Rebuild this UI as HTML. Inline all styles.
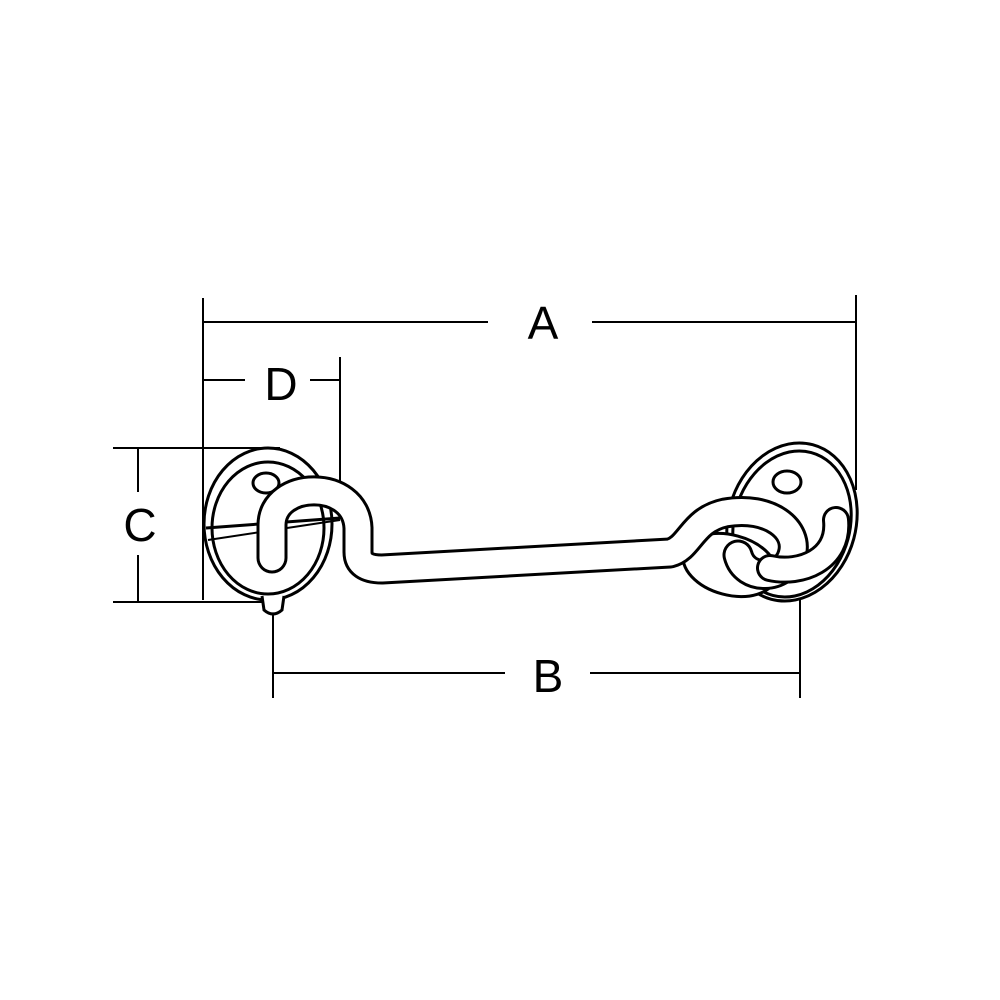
<!DOCTYPE html>
<html><head><style>body{margin:0;background:#fff}svg{display:block}</style></head><body>
<svg width="1000" height="1000" viewBox="0 0 1000 1000" xmlns="http://www.w3.org/2000/svg">
<g stroke="#000" stroke-width="2" fill="none">
<line x1="203" y1="298" x2="203" y2="600"/>
<line x1="856" y1="295" x2="856" y2="490"/>
<line x1="203" y1="322" x2="488" y2="322"/>
<line x1="592" y1="322" x2="856" y2="322"/>
<line x1="340" y1="357" x2="340" y2="482"/>
<line x1="203" y1="380" x2="245" y2="380"/>
<line x1="310" y1="380" x2="340" y2="380"/>
<line x1="113" y1="448" x2="280" y2="448"/>
<line x1="113" y1="602" x2="262" y2="602"/>
<line x1="138" y1="448" x2="138" y2="492"/>
<line x1="138" y1="555" x2="138" y2="602"/>
<line x1="273" y1="610" x2="273" y2="698"/>
<line x1="800" y1="530" x2="800" y2="698"/>
<line x1="273" y1="673" x2="505" y2="673"/>
<line x1="590" y1="673" x2="800" y2="673"/>
</g>
<g font-family="Liberation Sans, sans-serif" font-size="46" text-anchor="middle">
<text x="543" y="339">A</text>
<text x="281" y="400">D</text>
<text x="140" y="541">C</text>
<text x="548" y="692">B</text>
</g>
<!-- left plate -->
<g stroke="#000" stroke-width="3" fill="#fff">
<ellipse cx="268" cy="524" rx="64" ry="76"/>
<ellipse cx="268" cy="528" rx="56" ry="66"/>
<path d="M262,596 L264,610 Q273,618 282,610 L284,596"/>
<ellipse cx="266" cy="483" rx="13" ry="10"/>
<line x1="206" y1="528" x2="340" y2="518"/>
<line x1="208" y1="540" x2="340" y2="520" stroke-width="2"/>
</g>
<!-- right plate -->
<g stroke="#000" stroke-width="3" fill="#fff">
<ellipse cx="792" cy="522" rx="64" ry="80" transform="rotate(15 792 522)"/>
<ellipse cx="792" cy="524" rx="58" ry="74" transform="rotate(15 792 524)"/>
<ellipse cx="787" cy="482" rx="14" ry="11"/>
<ellipse cx="730" cy="565" rx="48" ry="30" transform="rotate(15 730 565)"/>
</g>
<!-- wire: black outline then white core -->
<g fill="none" stroke-linecap="round" stroke-linejoin="round">
<path id="w1" d="M272,558 L272,525 C272,480 356,478 358,528 L358,552 Q358,569 382,569 L670,553 C690,548 692,520 725,513 C770,505 800,530 792,555 C785,580 745,582 738,555" stroke="#000" stroke-width="31"/>
<path d="M272,558 L272,525 C272,480 356,478 358,528 L358,552 Q358,569 382,569 L670,553 C690,548 692,520 725,513 C770,505 800,530 792,555 C785,580 745,582 738,555" stroke="#fff" stroke-width="25"/>
<path d="M836,520 C840,560 800,575 770,568" stroke="#000" stroke-width="28"/>
<path d="M836,520 C840,560 800,575 770,568" stroke="#fff" stroke-width="22"/>
</g>
</svg>
</body></html>
